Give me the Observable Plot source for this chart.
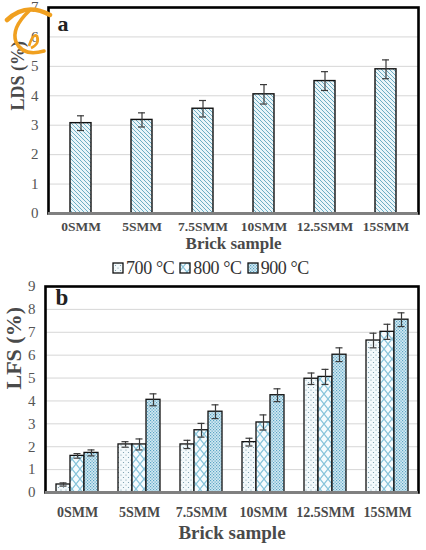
<!DOCTYPE html>
<html>
<head>
<meta charset="utf-8">
<script src="https://cdn.jsdelivr.net/npm/d3@7"></script>
<script src="https://cdn.jsdelivr.net/npm/@observablehq/plot@0.6"></script>
<style>
  html, body { margin: 0; padding: 0; background: #fff; }
  body { width: 426px; height: 550px; position: relative; overflow: hidden; font-family: "Liberation Serif", "Times New Roman", Tinos, "DejaVu Serif", serif; color: #404040; }
  svg, svg text { font-family: "Liberation Serif", "Times New Roman", Tinos, "DejaVu Serif", serif !important; }
  #chartA svg, #chartB svg { display: block; }
  #legend { height: 22px; display: flex; justify-content: flex-start; align-items: center; padding-left: 112px; font-size: 18px; letter-spacing: -0.4px; color: #333; }
  #legend .item { display: flex; align-items: center; margin-right: 5px; }
  #legend svg { margin-right: 1px; }
  #logo { position: absolute; left: 0; top: 0; }
</style>
</head>
<body>
<svg width="0" height="0" style="position:absolute">
  <defs>
    <pattern id="hatchA" patternUnits="userSpaceOnUse" width="4" height="4">
      <rect width="4" height="4" fill="#eaf5f9"/>
      <path d="M-1,-1 L5,5 M3,-1 L5,1 M-1,3 L1,5" stroke="#5fa6be" stroke-width="0.9"/>
    </pattern>
    <pattern id="dots700" patternUnits="userSpaceOnUse" width="5" height="5">
      <rect width="5" height="5" fill="#f3f9fb"/>
      <circle cx="1" cy="1" r="0.6" fill="#6f97a8"/>
      <circle cx="3.5" cy="3.5" r="0.6" fill="#6f97a8"/>
    </pattern>
    <pattern id="diamond800" patternUnits="userSpaceOnUse" width="8" height="10">
      <rect width="8" height="10" fill="#f6fbfd"/>
      <path d="M0,0 L8,10 M8,0 L0,10" stroke="#86c3da" stroke-width="1.2"/>
    </pattern>
    <pattern id="dense900" patternUnits="userSpaceOnUse" width="3" height="3">
      <rect width="3" height="3" fill="#d3eaf3"/>
      <rect x="0" y="0" width="1.2" height="1.2" fill="#5ba4c4"/>
      <rect x="1.5" y="1.5" width="1.2" height="1.2" fill="#5ba4c4"/>
    </pattern>
  </defs>
</svg>
<div id="chartA"></div>
<div id="legend"></div>
<div id="chartB"></div>
<svg id="logo" width="60" height="60">
  <path d="M7,20 Q26,2 50,15" fill="none" stroke="#f0a020" stroke-width="4.5" stroke-linecap="round"/>
  <path d="M29,11 Q11,28 16,42 Q23,57 44,51" fill="none" stroke="#f0a020" stroke-width="3.6" stroke-linecap="round"/>
  <path d="M29,46 Q33,33 37,36 Q40,44 31,48" fill="none" stroke="#f0a020" stroke-width="2.6"/>
</svg>
<script>
const samples = ["0SMM", "5SMM", "7.5SMM", "10SMM", "12.5SMM", "15SMM"];
const lds = [3.07, 3.18, 3.56, 4.05, 4.50, 4.90];
const ldsErr = [0.25, 0.24, 0.28, 0.33, 0.32, 0.32];

const temps = ["700 °C", "800 °C", "900 °C"];
const lfs700 = [0.35, 2.10, 2.10, 2.20, 4.97, 6.64];
const lfs800 = [1.60, 2.10, 2.72, 3.06, 5.05, 7.02];
const lfs900 = [1.73, 4.05, 3.53, 4.25, 6.02, 7.55];
const err700 = [0.07, 0.12, 0.18, 0.17, 0.25, 0.32];
const err800 = [0.10, 0.24, 0.30, 0.33, 0.33, 0.33];
const err900 = [0.13, 0.26, 0.30, 0.28, 0.30, 0.30];

const fills = ["url(#dots700)", "url(#diamond800)", "url(#dense900)"];
const errColor = "#3a3a3a";
const serif = "'Liberation Serif', 'Times New Roman', Tinos, 'DejaVu Serif', serif";

// ---------- Panel a ----------
const dataA = samples.map((s, i) => ({sample: s, v: lds[i], lo: lds[i] - ldsErr[i], hi: lds[i] + ldsErr[i]}));
const chartA = Plot.plot({
  width: 426, height: 257,
  marginTop: 7, marginBottom: 44, marginLeft: 48, marginRight: 8,
  style: {fontFamily: serif, color: "#404040", background: "transparent"},
  x: {domain: samples, paddingInner: 0.66, paddingOuter: 0.33, axis: null},
  y: {domain: [0, 7], axis: null},
  marks: [
    Plot.gridY({ticks: d3.range(1, 8), stroke: "#d6d6d6", strokeOpacity: 1, strokeWidth: 1}),
    Plot.barY(dataA, {x: "sample", y: "v", fill: "url(#hatchA)", stroke: "#111", strokeWidth: 1.4}),
    Plot.ruleX(dataA, {x: "sample", y1: "lo", y2: "hi", stroke: errColor, strokeWidth: 1.2}),
    Plot.tickY(dataA, {x: "sample", y: "lo", stroke: errColor, strokeWidth: 1.2, insetLeft: 7, insetRight: 7}),
    Plot.tickY(dataA, {x: "sample", y: "hi", stroke: errColor, strokeWidth: 1.2, insetLeft: 7, insetRight: 7}),
    Plot.frame({stroke: "#000", strokeWidth: 2.6}),
    Plot.ruleY([0], {stroke: "#808080", strokeWidth: 3}),
    Plot.axisY({ticks: d3.range(0, 8), tickSize: 0, tickPadding: 10, fontSize: 15, label: null, tickFormat: d => d, fill: "#555"}),
    Plot.axisX({tickSize: 0, tickPadding: 8, fontSize: 13.5, fontWeight: "bold", label: null, fill: "#4a4a4a"}),
    Plot.text(["Brick sample"], {frameAnchor: "bottom", dy: 35, fontSize: 17, fontWeight: "bold", fill: "#4a4a4a"}),
    Plot.text(["LDS (%)"], {frameAnchor: "left", dx: -30, rotate: -90, fontSize: 18, fontWeight: "bold", fill: "#4a4a4a"}),
    Plot.text(["a"], {frameAnchor: "top-left", dx: 9, dy: 8, fontSize: 22, fontWeight: "bold", fill: "#222"})
  ]
});
document.getElementById("chartA").appendChild(chartA);

// ---------- Legend ----------
const legend = d3.select("#legend");
temps.forEach((t, k) => {
  const item = legend.append("div").attr("class", "item");
  const sw = item.append("svg").attr("width", 13).attr("height", 13);
  sw.append("rect").attr("x", 1).attr("y", 1).attr("width", 10).attr("height", 10)
    .attr("fill", fills[k]).attr("stroke", "#111").attr("stroke-width", 1.3);
  item.append("span").text(t);
});

// ---------- Panel b ----------
const series = [lfs700, lfs800, lfs900];
const errs = [err700, err800, err900];
const bw = 42, sub = bw / 3;
const marksB = [Plot.gridY({ticks: d3.range(1, 10), stroke: "#d6d6d6", strokeOpacity: 1, strokeWidth: 1})];
series.forEach((vals, k) => {
  const rows = samples.map((s, i) => ({sample: s, v: vals[i], lo: vals[i] - errs[k][i], hi: vals[i] + errs[k][i]}));
  const inL = k * sub, inR = (2 - k) * sub;
  marksB.push(
    Plot.barY(rows, {x: "sample", y: "v", fill: fills[k], stroke: "#111", strokeWidth: 1.3, insetLeft: inL, insetRight: inR}),
    Plot.ruleX(rows, {x: "sample", y1: "lo", y2: "hi", stroke: errColor, strokeWidth: 1.2, dx: (k - 1) * sub}),
    Plot.tickY(rows, {x: "sample", y: "lo", stroke: errColor, strokeWidth: 1.2, insetLeft: inL + 3.5, insetRight: inR + 3.5}),
    Plot.tickY(rows, {x: "sample", y: "hi", stroke: errColor, strokeWidth: 1.2, insetLeft: inL + 3.5, insetRight: inR + 3.5})
  );
});
marksB.push(
  Plot.frame({stroke: "#000", strokeWidth: 2.6}),
  Plot.ruleY([0], {stroke: "#808080", strokeWidth: 3}),
  Plot.axisY({ticks: d3.range(0, 10), tickSize: 0, tickPadding: 10, fontSize: 15, label: null, tickFormat: d => d, fill: "#555"}),
  Plot.axisX({tickSize: 0, tickPadding: 15, fontSize: 14, fontWeight: "bold", label: null, fill: "#4a4a4a"}),
  Plot.text(["Brick sample"], {frameAnchor: "bottom", dy: 46, fontSize: 19, fontWeight: "bold", fill: "#4a4a4a"}),
  Plot.text(["LFS (%)"], {frameAnchor: "left", dx: -32, rotate: -90, fontSize: 22, fontWeight: "bold", fill: "#4a4a4a"}),
  Plot.text(["b"], {frameAnchor: "top-left", dx: 10, dy: 2, fontSize: 23, fontWeight: "bold", fill: "#222"})
);
const chartB = Plot.plot({
  width: 426, height: 271,
  marginTop: 7, marginBottom: 58, marginLeft: 45, marginRight: 8,
  style: {fontFamily: serif, color: "#404040", background: "transparent"},
  x: {domain: samples, paddingInner: 0.328, paddingOuter: 0.164, axis: null},
  y: {domain: [0, 9], axis: null},
  marks: marksB
});
document.getElementById("chartB").appendChild(chartB);
</script>
</body>
</html>
